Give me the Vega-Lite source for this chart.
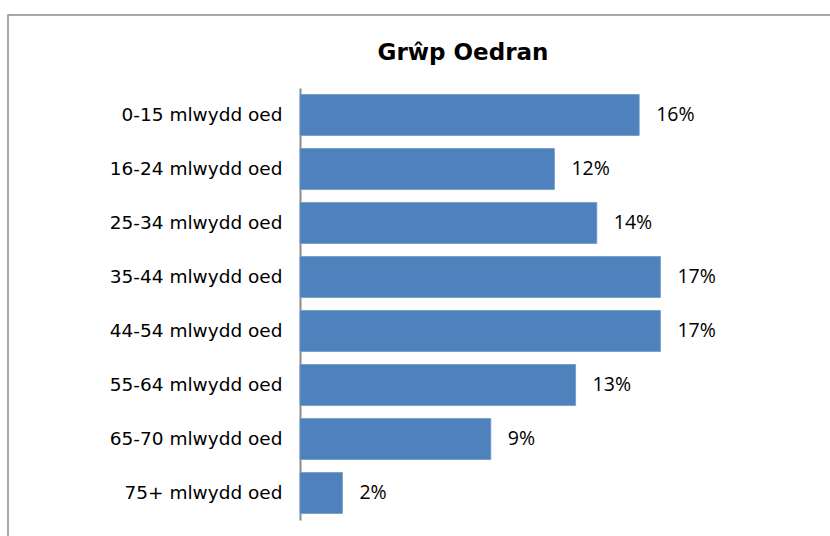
{
  "$schema": "https://vega.github.io/schema/vega-lite/v6.json",
  "autosize": "none",
  "width": 830,
  "height": 530,
  "padding": {"left": 8, "top": 15, "right": 0, "bottom": 0},
  "background": "white",
  "title": {
    "text": "Grŵp Oedran",
    "font": "DejaVu Sans",
    "fontSize": 23,
    "fontWeight": "bold",
    "color": "black",
    "anchor": "middle",
    "dx": 40,
    "baseline": "alphabetic",
    "offset": -68
  },
  "config": {
    "view": {"stroke": "#8c8c8c", "strokeWidth": 1.5}
  },
  "data": {
    "values": [
      {"group": "0-15 mlwydd oed", "share": 0.16},
      {"group": "16-24 mlwydd oed", "share": 0.12},
      {"group": "25-34 mlwydd oed", "share": 0.14},
      {"group": "35-44 mlwydd oed", "share": 0.17},
      {"group": "44-54 mlwydd oed", "share": 0.17},
      {"group": "55-64 mlwydd oed", "share": 0.13},
      {"group": "65-70 mlwydd oed", "share": 0.09},
      {"group": "75+ mlwydd oed", "share": 0.02}
    ]
  },
  "encoding": {
    "y": {
      "field": "group",
      "type": "nominal",
      "sort": null,
      "scale": {"range": [73, 505], "paddingInner": 0.24, "paddingOuter": 0.12},
      "axis": {
        "title": null,
        "offset": -292,
        "ticks": false,
        "labelPadding": 18,
        "labelFont": "DejaVu Sans",
        "labelFontSize": 18.5,
        "labelColor": "black",
        "domainColor": "#8c8c8c",
        "domainWidth": 2
      }
    },
    "x": {
      "field": "share",
      "type": "quantitative",
      "scale": {"domain": [0, 0.17], "range": [292, 652.4], "nice": false, "zero": false},
      "axis": null
    }
  },
  "layer": [
    {"mark": {"type": "bar", "color": "#4F81BD", "stroke": "#6f98cc", "strokeWidth": 0.8}},
    {
      "mark": {"type": "text", "align": "left", "baseline": "middle", "dx": 17, "font": "Open Sans", "fontSize": 19.5, "color": "black"},
      "encoding": {"text": {"field": "share", "type": "quantitative", "format": ".0%"}}
    }
  ]
}
